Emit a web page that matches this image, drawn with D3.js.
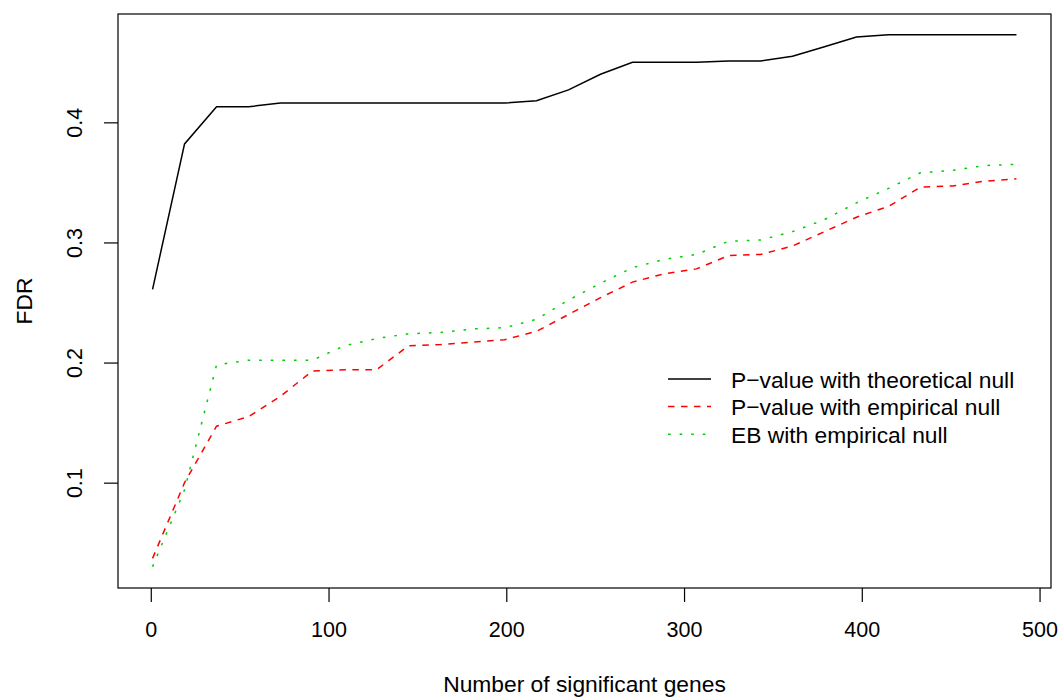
<!DOCTYPE html>
<html>
<head>
<meta charset="utf-8">
<script src="https://cdn.jsdelivr.net/npm/d3@7"></script>
<style>
  body { margin: 0; background: #fff; }
  svg text { font-family: "Liberation Sans", Arial, Helvetica, sans-serif; fill: #000; }
</style>
</head>
<body>
<svg id="chart" width="1063" height="700"></svg>
<script>
// number of significant genes
var genes = [1, 19, 37, 55, 73, 91, 109, 127, 145, 163, 181, 199, 217, 235,
  253, 271, 289, 307, 325, 343, 361, 379, 397, 415, 433, 451, 469, 487];

// FDR, p-value with theoretical null
var theoretical = [0.261, 0.382, 0.413, 0.413, 0.416, 0.416, 0.416, 0.416, 0.416, 0.416,
  0.416, 0.416, 0.418, 0.427, 0.440, 0.450, 0.450, 0.450, 0.451, 0.451,
  0.455, 0.463, 0.471, 0.473, 0.473, 0.473, 0.473, 0.473];

// FDR, p-value with empirical null
var empirical = [0.037, 0.100, 0.147, 0.155, 0.172, 0.193, 0.194, 0.194, 0.214, 0.215,
  0.217, 0.219, 0.226, 0.240, 0.254, 0.267, 0.274, 0.278, 0.289, 0.290,
  0.297, 0.309, 0.321, 0.330, 0.346, 0.347, 0.351, 0.353];

// FDR, EB with empirical null
var eb = [0.030, 0.094, 0.198, 0.202, 0.202, 0.202, 0.214, 0.220, 0.224, 0.225,
  0.228, 0.229, 0.236, 0.252, 0.266, 0.279, 0.286, 0.290, 0.301, 0.302,
  0.309, 0.319, 0.333, 0.345, 0.358, 0.360, 0.364, 0.365];

var xTicks = [0, 100, 200, 300, 400, 500];
var yTicks = [0.1, 0.2, 0.3, 0.4];

var legendLabels = ["P\u2212value with theoretical null", "P\u2212value with empirical null", "EB with empirical null"];

var plot = { left: 118, right: 1051, top: 14, bottom: 588 };
var fontSize = 22.8;
var tickFontSize = 21.5;

var svg = d3.select("#chart");

var x = d3.scaleLinear()
  .domain([-18.44, 506.44])
  .range([plot.left, plot.right]);

var y = d3.scaleLinear()
  .domain([0.0123, 0.4902])
  .range([plot.bottom, plot.top]);

var series = [
  { values: theoretical, color: "#000000", dash: null },
  { values: empirical, color: "#FF0000", dash: "6.5,6.5" },
  { values: eb, color: "#00CD00", dash: "2.6,9" }
];

var line = d3.line()
  .x(function(d) { return x(d[0]); })
  .y(function(d) { return y(d[1]); });

series.forEach(function(s) {
  var pts = genes.map(function(g, i) { return [g, s.values[i]]; });
  svg.append("path")
    .attr("d", line(pts))
    .attr("fill", "none")
    .attr("stroke", s.color)
    .attr("stroke-width", 1.5)
    .attr("stroke-dasharray", s.dash);
});

// box
svg.append("rect")
  .attr("x", plot.left)
  .attr("y", plot.top)
  .attr("width", plot.right - plot.left)
  .attr("height", plot.bottom - plot.top)
  .attr("fill", "none")
  .attr("stroke", "#000")
  .attr("stroke-width", 1.2);

// x axis
var xAxis = d3.axisBottom(x)
  .tickValues(xTicks)
  .tickSize(14)
  .tickPadding(20)
  .tickFormat(d3.format("d"));

var gx = svg.append("g")
  .attr("transform", "translate(0," + plot.bottom + ")")
  .call(xAxis);
gx.select(".domain").remove();
gx.selectAll("line").attr("stroke", "#000").attr("stroke-width", 1.2);
gx.selectAll("text")
  .attr("font-size", tickFontSize)
  .style("font-family", "Liberation Sans, Arial, sans-serif");

// y axis
var yAxis = d3.axisLeft(y)
  .tickValues(yTicks)
  .tickSize(14)
  .tickFormat(d3.format(".1f"));

var gy = svg.append("g")
  .attr("transform", "translate(" + plot.left + ",0)")
  .call(yAxis);
gy.select(".domain").remove();
gy.selectAll("line").attr("stroke", "#000").attr("stroke-width", 1.2);
gy.selectAll("text")
  .attr("font-size", tickFontSize)
  .style("font-family", "Liberation Sans, Arial, sans-serif")
  .attr("text-anchor", "middle")
  .attr("x", 0)
  .attr("y", -36)
  .attr("dy", 0)
  .attr("transform", "rotate(-90)");

// axis titles
svg.append("text")
  .attr("x", (plot.left + plot.right) / 2)
  .attr("y", 692)
  .attr("text-anchor", "middle")
  .attr("font-size", fontSize)
  .text("Number of significant genes");

svg.append("text")
  .attr("transform", "translate(32," + (plot.top + plot.bottom) / 2 + ") rotate(-90)")
  .attr("text-anchor", "middle")
  .attr("font-size", fontSize)
  .text("FDR");

// legend
var legend = svg.append("g");
series.forEach(function(s, i) {
  var ly = 379 + i * 27.6;
  legend.append("line")
    .attr("x1", 668).attr("x2", 711)
    .attr("y1", ly).attr("y2", ly)
    .attr("stroke", s.color)
    .attr("stroke-width", 1.5)
    .attr("stroke-dasharray", s.dash);
  legend.append("text")
    .attr("x", 731)
    .attr("y", ly + 8.5)
    .attr("font-size", fontSize)
    .text(legendLabels[i]);
});
</script>
</body>
</html>
